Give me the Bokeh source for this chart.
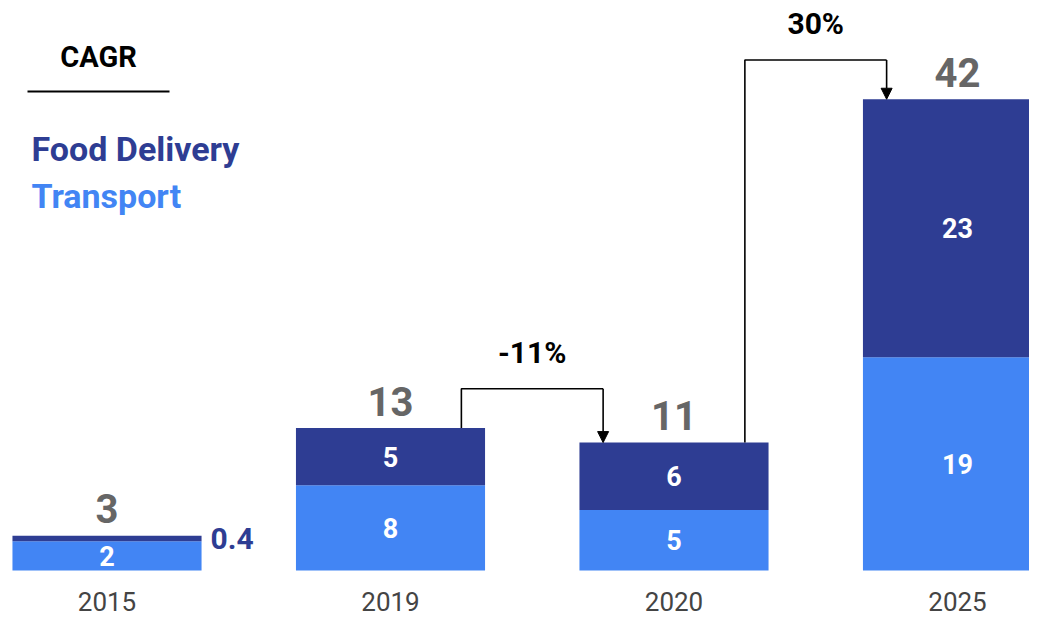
from bokeh.plotting import figure
from bokeh.models import Range1d, Label, Arrow, NormalHead, ColumnDataSource, BoxAnnotation
from bokeh.core.properties import value
from bokeh.embed import file_html
from bokeh.resources import INLINE

years = ["2015", "2019", "2020", "2025"]
transport = [2.6, 7.6, 5.4, 19.0]
food = [0.5, 5.1, 6.0, 23.0]
transport_labels = ["2", "8", "5", "19"]
food_labels = ["0.4", "5", "6", "23"]
total_labels = ["3", "13", "11", "42"]
cagr_labels = ["-11%", "30%"]
cagr_pairs = [(1, 2), (2, 3)]

FOOD = "#2E3D93"
TRANS = "#4285F4"
FONT = "Roboto"
BAR_W = 0.667

W, H = 1029, 619
p = figure(width=W, height=H, output_backend="svg", toolbar_location=None,
           x_range=Range1d(-0.3757, 3.2540), y_range=Range1d(-4.367, 50.80),
           min_border=0, min_border_left=0, min_border_right=0,
           min_border_top=0, min_border_bottom=0)
p.axis.visible = False
p.grid.visible = False
p.outline_line_color = None
p.background_fill_color = "white"
p.border_fill_color = "white"

xs = list(range(len(years)))
totals = [t + f for t, f in zip(transport, food)]

src = ColumnDataSource(dict(x=xs, year=years, t=transport, f=food, tot=totals,
                            zero=[0] * len(xs),
                            tmid=[t / 2 for t in transport],
                            tl=transport_labels, totl=total_labels))

p.vbar(x="x", width=BAR_W, bottom=0, top="t", source=src, fill_color=TRANS, line_color=None)
p.vbar(x="x", width=BAR_W, bottom="t", top="tot", source=src, fill_color=FOOD, line_color=None)

# labels inside transport
p.text(x="x", y="tmid", text="tl", source=src, text_align="center", text_baseline="middle",
       text_color="white", text_font=value(FONT), text_font_style="bold", text_font_size="27px")

# food labels: inside if big, else to the right
inside = [i for i in xs if food[i] >= 1]
outside = [i for i in xs if food[i] < 1]
p.text(x=[xs[i] for i in inside], y=[transport[i] + food[i] / 2 for i in inside],
       text=[food_labels[i] for i in inside], text_align="center", text_baseline="middle",
       text_color="white", text_font=value(FONT), text_font_style="bold", text_font_size="27px")
p.text(x=[xs[i] + BAR_W / 2 for i in outside], y=[transport[i] + food[i] / 2 for i in outside],
       text=[food_labels[i] for i in outside], text_align="left", text_baseline="middle",
       x_offset=9, text_color=FOOD, text_font=value(FONT), text_font_style="bold",
       text_font_size="30px")

# totals
p.text(x="x", y="tot", text="totl", source=src, text_align="center", text_baseline="middle",
       y_offset=-27, text_color="#666666", text_font=value(FONT), text_font_style="bold",
       text_font_size="40px")

# category labels
p.text(x="x", y="zero", text="year", source=src, text_align="center",
       text_baseline="middle", y_offset=31, text_color="#444444", text_font=value(FONT),
       text_font_size="26px")

# CAGR connectors
for (i, j), lab in zip(cagr_pairs, cagr_labels):
    x1 = xs[i] + 0.25
    x2 = xs[j] - 0.25
    yc = max(totals[i], totals[j]) + 3.5
    p.line(x=[x1, x1, x2], y=[totals[i], yc, yc], line_color="black", line_width=1.6)
    p.add_layout(Arrow(end=NormalHead(size=11, fill_color="black", line_color="black"),
                       x_start=x2, y_start=yc, x_end=x2, y_end=totals[j],
                       line_color="black", line_width=1.6))
    p.text(x=[(x1 + x2) / 2], y=[yc], y_offset=-36, text=[lab], text_align="center",
           text_baseline="middle", text_color="black", text_font=value(FONT),
           text_font_style="bold", text_font_size="30px")

# legend block (screen units, measured from the bottom of the figure)
p.add_layout(Label(x=98, y=H - 56, x_units="screen", y_units="screen", text="CAGR",
                   text_align="center", text_baseline="middle", text_color="black",
                   text_font=FONT, text_font_style="bold", text_font_size="29px"))
p.add_layout(BoxAnnotation(left=27, right=169, bottom=H - 92, top=H - 90,
                           left_units="screen", right_units="screen",
                           bottom_units="screen", top_units="screen",
                           fill_color="black", fill_alpha=1, line_color=None))
p.add_layout(Label(x=31, y=H - 148, x_units="screen", y_units="screen", text="Food Delivery",
                   text_align="left", text_baseline="middle", text_color=FOOD,
                   text_font=FONT, text_font_style="bold", text_font_size="34px"))
p.add_layout(Label(x=31, y=H - 195, x_units="screen", y_units="screen", text="Transport",
                   text_align="left", text_baseline="middle", text_color=TRANS,
                   text_font=FONT, text_font_style="bold", text_font_size="34px"))

open("out.html", "w").write(file_html(p, INLINE))
